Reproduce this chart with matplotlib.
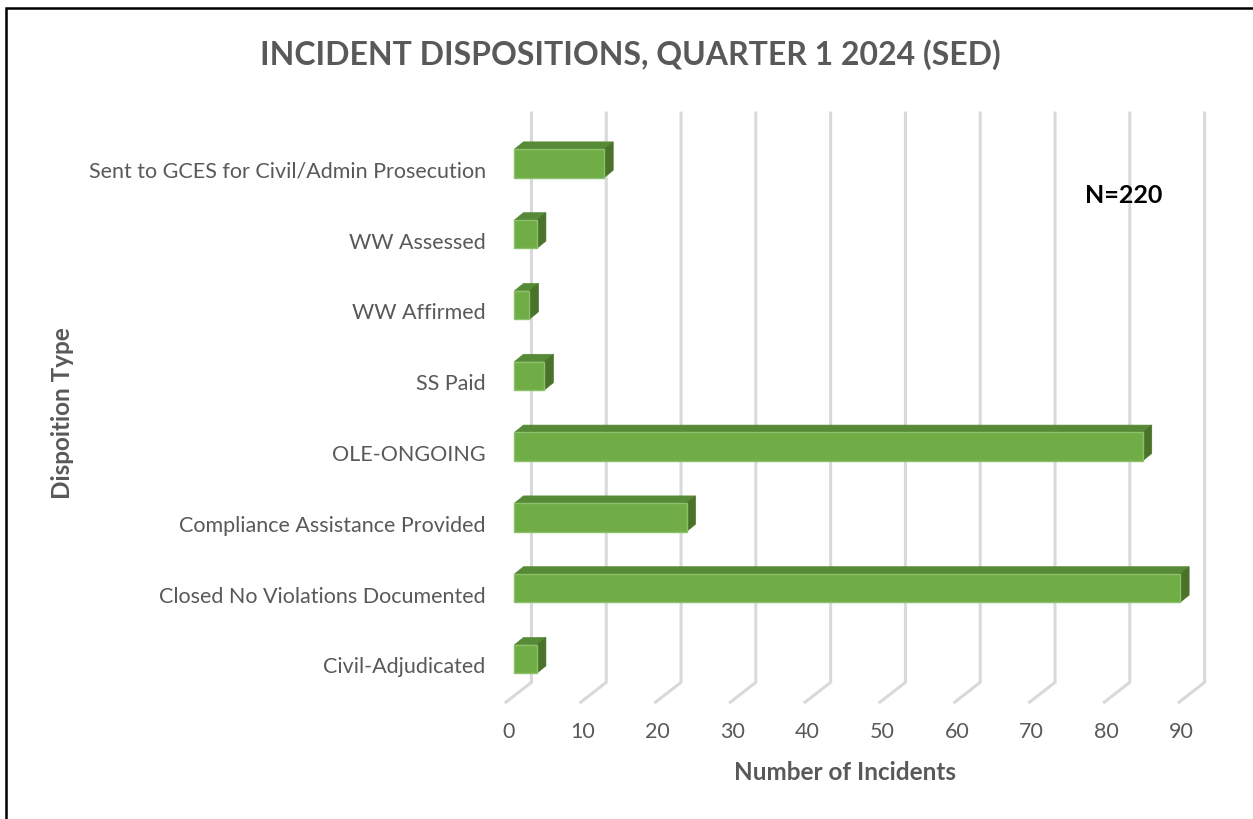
import matplotlib.pyplot as plt
from matplotlib.patches import Rectangle, Polygon

# Chart data (bottom to top, as drawn)
categories = ['Civil-Adjudicated', 'Closed No Violations Documented',
              'Compliance Assistance Provided', 'OLE-ONGOING', 'SS Paid',
              'WW Affirmed', 'WW Assessed',
              'Sent to GCES for Civil/Admin Prosecution']
counts = [3, 89, 23, 84, 4, 2, 3, 12]
x_ticks = [0, 10, 20, 30, 40, 50, 60, 70, 80, 90]
total = sum(counts)

plt.rcParams['font.family'] = ['Lato', 'DejaVu Sans']
grey = '#595959'

# fake 3D geometry (data units)
half_h = 0.2
depth_dx, depth_dy = 1.2, 0.103
back_dx, back_dy = 2.27, 0.19
floor_dx, floor_dy = -1.14, -0.09
grid_top, grid_bot = 7.71, -0.33

fig = plt.figure(figsize=(12.53, 8.19), dpi=100)
ax = fig.add_axes([0.3909, 0.1219, 0.5808, 0.7435])
ax.set_xlim(-3.3, 94)
ax.set_ylim(-0.85, 7.75)

# gridlines on the back wall and floor
for v in x_ticks:
    ax.plot([v + back_dx, v + back_dx, v + floor_dx],
            [grid_top, grid_bot, grid_bot - (back_dy - floor_dy)],
            color='#D9D9D9', lw=2.2, solid_joinstyle='miter', zorder=1)
    ax.text(v + floor_dx + 0.3, -1.03, str(v), ha='center', va='center',
            fontsize=15.5, color=grey)

# bars
for i, v in enumerate(counts):
    y0, y1 = i - half_h, i + half_h
    top = Polygon([(0, y1), (depth_dx, y1 + depth_dy),
                   (v + depth_dx, y1 + depth_dy), (v, y1)],
                  closed=True, fc='#568A37', ec='#568A37', lw=0.5, zorder=3)
    side = Polygon([(v, y0), (v + depth_dx, y0 + depth_dy),
                    (v + depth_dx, y1 + depth_dy), (v, y1)],
                   closed=True, fc='#4A7329', ec='#4A7329', lw=0.5, zorder=3)
    front = Rectangle((0, y0), v, y1 - y0, fc='#70AD47', ec='#8CC06A',
                      lw=1, zorder=4)
    ax.add_patch(top)
    ax.add_patch(side)
    ax.add_patch(front)

ax.set_yticks([i - 0.09 for i in range(len(categories))])
ax.set_yticklabels(categories, fontsize=15.5, color=grey)
ax.tick_params(axis='y', length=0, pad=3)
ax.set_xticks([])
for s in ax.spines.values():
    s.set_visible(False)
ax.patch.set_visible(False)

ax.text(81.5, 6.54, 'N=%d' % total, ha='center', va='center',
        fontsize=18, fontweight='bold', color='black')

fig.text(0.503, 0.933, 'INCIDENT DISPOSITIONS, QUARTER 1 2024 (SED)',
         ha='center', va='center', fontsize=23, fontweight='bold', color=grey)
fig.text(0.6745, 0.057, 'Number of Incidents', ha='center', va='center',
         fontsize=17.5, fontweight='bold', color=grey)
fig.text(0.0495, 0.496, 'Dispoition Type', ha='center', va='center',
         rotation=90, fontsize=17.5, fontweight='bold', color=grey)

# outer frame (left and top edges visible)
fig.patches.append(Rectangle((0.005, -0.05), 1.05, 1.04, transform=fig.transFigure,
                             fill=False, ec='black', lw=1.8))

fig.savefig('out.png', dpi=100)
